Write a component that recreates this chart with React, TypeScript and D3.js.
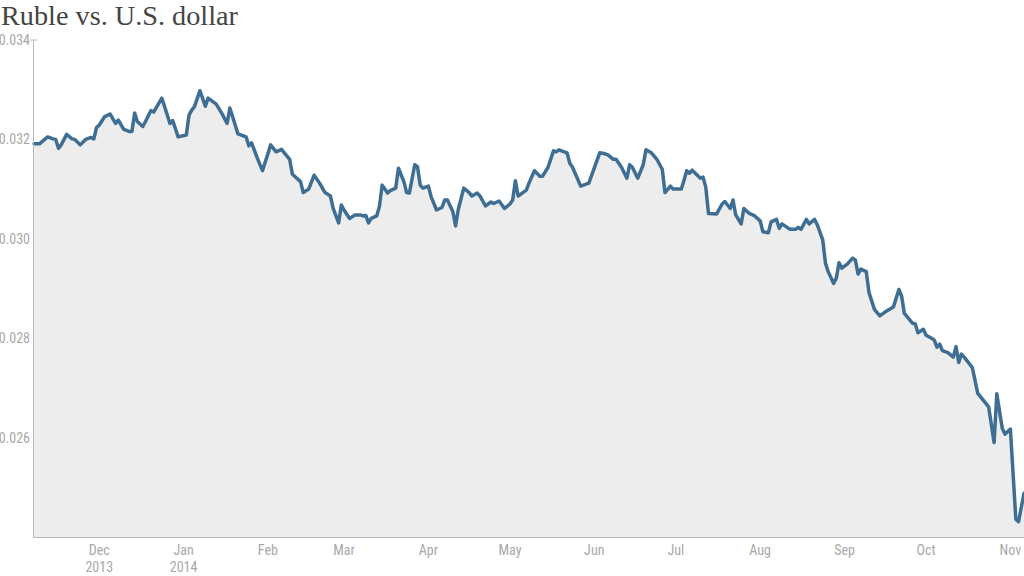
import React from "react";
import * as d3 from "d3";

const title = "Ruble vs. U.S. dollar";

// [date, rubles-in-dollars]
const rubleUsd: [string, number][] = [
  ["2013-11-07", 0.03191], ["2013-11-09", 0.03191], ["2013-11-12", 0.03205], ["2013-11-14", 0.03201],
  ["2013-11-15", 0.032], ["2013-11-16", 0.03182], ["2013-11-17", 0.03189], ["2013-11-19", 0.0321],
  ["2013-11-21", 0.03201], ["2013-11-22", 0.032], ["2013-11-24", 0.03189], ["2013-11-26", 0.032],
  ["2013-11-28", 0.03204], ["2013-11-29", 0.03201], ["2013-11-30", 0.03224], ["2013-12-01", 0.03229],
  ["2013-12-03", 0.03246], ["2013-12-05", 0.03251], ["2013-12-07", 0.03232], ["2013-12-08", 0.03239],
  ["2013-12-10", 0.0322], ["2013-12-12", 0.03216], ["2013-12-13", 0.03216], ["2013-12-14", 0.03253],
  ["2013-12-15", 0.03236], ["2013-12-17", 0.03226], ["2013-12-18", 0.03236], ["2013-12-20", 0.03258],
  ["2013-12-21", 0.03255], ["2013-12-24", 0.03283], ["2013-12-26", 0.03249], ["2013-12-27", 0.03232],
  ["2013-12-28", 0.03238], ["2013-12-30", 0.03205], ["2014-01-02", 0.03209], ["2014-01-03", 0.03249],
  ["2014-01-04", 0.03259], ["2014-01-05", 0.03266], ["2014-01-07", 0.03298], ["2014-01-09", 0.03267],
  ["2014-01-10", 0.03283], ["2014-01-13", 0.03271], ["2014-01-15", 0.03253], ["2014-01-17", 0.03232],
  ["2014-01-18", 0.03263], ["2014-01-19", 0.03246], ["2014-01-21", 0.03211], ["2014-01-24", 0.03205],
  ["2014-01-25", 0.03187], ["2014-01-26", 0.03193], ["2014-01-28", 0.03164], ["2014-01-30", 0.03137],
  ["2014-02-01", 0.03171], ["2014-02-02", 0.03189], ["2014-02-04", 0.03175], ["2014-02-06", 0.0318],
  ["2014-02-09", 0.0316], ["2014-02-10", 0.0313], ["2014-02-13", 0.03115], ["2014-02-14", 0.03093],
  ["2014-02-16", 0.031], ["2014-02-18", 0.03128], ["2014-02-20", 0.03112], ["2014-02-22", 0.03093],
  ["2014-02-24", 0.03086], ["2014-02-25", 0.03061], ["2014-02-27", 0.03032], ["2014-02-28", 0.03068],
  ["2014-03-01", 0.03058], ["2014-03-03", 0.03041], ["2014-03-05", 0.03048], ["2014-03-07", 0.03048],
  ["2014-03-08", 0.03046], ["2014-03-09", 0.03047], ["2014-03-10", 0.03032], ["2014-03-11", 0.03041],
  ["2014-03-13", 0.03046], ["2014-03-14", 0.03065], ["2014-03-15", 0.03108], ["2014-03-17", 0.03092],
  ["2014-03-18", 0.03097], ["2014-03-20", 0.03102], ["2014-03-21", 0.03142], ["2014-03-23", 0.03115],
  ["2014-03-24", 0.03093], ["2014-03-25", 0.03092], ["2014-03-27", 0.03149], ["2014-03-28", 0.03145],
  ["2014-03-29", 0.03108], ["2014-03-30", 0.03102], ["2014-04-01", 0.03106], ["2014-04-02", 0.03085],
  ["2014-04-04", 0.03058], ["2014-04-06", 0.03063], ["2014-04-07", 0.03078], ["2014-04-08", 0.03078],
  ["2014-04-10", 0.03055], ["2014-04-11", 0.03026], ["2014-04-12", 0.03059], ["2014-04-14", 0.03102],
  ["2014-04-16", 0.03093], ["2014-04-17", 0.03086], ["2014-04-19", 0.03092], ["2014-04-20", 0.03086],
  ["2014-04-22", 0.03066], ["2014-04-24", 0.03074], ["2014-04-25", 0.03071], ["2014-04-27", 0.03076],
  ["2014-04-29", 0.03061], ["2014-05-01", 0.0307], ["2014-05-02", 0.03078], ["2014-05-03", 0.03117],
  ["2014-05-04", 0.03086], ["2014-05-07", 0.03098], ["2014-05-08", 0.03112], ["2014-05-10", 0.03137],
  ["2014-05-12", 0.03126], ["2014-05-13", 0.03126], ["2014-05-15", 0.03144], ["2014-05-17", 0.03177],
  ["2014-05-18", 0.03175], ["2014-05-19", 0.03179], ["2014-05-22", 0.03173], ["2014-05-23", 0.03152],
  ["2014-05-24", 0.03144], ["2014-05-27", 0.03106], ["2014-05-28", 0.03108], ["2014-05-30", 0.03112],
  ["2014-06-03", 0.03173], ["2014-06-05", 0.03171], ["2014-06-06", 0.03169], ["2014-06-08", 0.0316],
  ["2014-06-09", 0.0316], ["2014-06-11", 0.03144], ["2014-06-13", 0.03122], ["2014-06-14", 0.03149],
  ["2014-06-15", 0.03144], ["2014-06-17", 0.03122], ["2014-06-19", 0.03149], ["2014-06-20", 0.03179],
  ["2014-06-22", 0.03173], ["2014-06-24", 0.0316], ["2014-06-26", 0.0314], ["2014-06-27", 0.03093],
  ["2014-06-29", 0.03106], ["2014-06-30", 0.031], ["2014-07-03", 0.031], ["2014-07-04", 0.03118],
  ["2014-07-05", 0.03137], ["2014-07-06", 0.03132], ["2014-07-07", 0.03138], ["2014-07-10", 0.03122],
  ["2014-07-11", 0.03124], ["2014-07-12", 0.03104], ["2014-07-13", 0.03051], ["2014-07-16", 0.0305],
  ["2014-07-18", 0.0307], ["2014-07-19", 0.03075], ["2014-07-21", 0.03061], ["2014-07-22", 0.03078],
  ["2014-07-23", 0.03048], ["2014-07-25", 0.0303], ["2014-07-26", 0.03061], ["2014-07-28", 0.03051],
  ["2014-07-30", 0.03046], ["2014-08-01", 0.03036], ["2014-08-02", 0.03014], ["2014-08-04", 0.03012],
  ["2014-08-05", 0.03034], ["2014-08-07", 0.03039], ["2014-08-08", 0.03021], ["2014-08-09", 0.0303],
  ["2014-08-12", 0.03019], ["2014-08-14", 0.03019], ["2014-08-15", 0.03023], ["2014-08-16", 0.03019],
  ["2014-08-18", 0.03039], ["2014-08-19", 0.0303], ["2014-08-21", 0.03039], ["2014-08-22", 0.03028],
  ["2014-08-24", 0.02998], ["2014-08-25", 0.02951], ["2014-08-26", 0.02934], ["2014-08-28", 0.0291],
  ["2014-08-29", 0.02921], ["2014-08-30", 0.02952], ["2014-08-31", 0.02941], ["2014-09-02", 0.02949],
  ["2014-09-04", 0.02961], ["2014-09-05", 0.02957], ["2014-09-06", 0.02929], ["2014-09-07", 0.02939],
  ["2014-09-09", 0.02934], ["2014-09-10", 0.02892], ["2014-09-12", 0.02858], ["2014-09-14", 0.02845],
  ["2014-09-16", 0.02853], ["2014-09-19", 0.02863], ["2014-09-21", 0.02898], ["2014-09-22", 0.02885],
  ["2014-09-23", 0.0285], ["2014-09-25", 0.02837], ["2014-09-26", 0.0283], ["2014-09-27", 0.02829],
  ["2014-09-28", 0.02811], ["2014-09-30", 0.02818], ["2014-10-01", 0.02806], ["2014-10-03", 0.028],
  ["2014-10-04", 0.02796], ["2014-10-05", 0.02782], ["2014-10-06", 0.02788], ["2014-10-07", 0.02775],
  ["2014-10-09", 0.02771], ["2014-10-11", 0.02762], ["2014-10-12", 0.02783], ["2014-10-13", 0.02751],
  ["2014-10-14", 0.02768], ["2014-10-15", 0.02762], ["2014-10-18", 0.02741], ["2014-10-20", 0.02689],
  ["2014-10-24", 0.02662], ["2014-10-26", 0.0259], ["2014-10-27", 0.02688], ["2014-10-29", 0.02619],
  ["2014-10-30", 0.02607], ["2014-11-01", 0.02617], ["2014-11-03", 0.02436], ["2014-11-04", 0.02431],
  ["2014-11-06", 0.02488],
];

const yTicks = [0.026, 0.028, 0.03, 0.032, 0.034];
const monthTicks = [
  "2013-12-01", "2014-01-01", "2014-02-01", "2014-03-01", "2014-04-01", "2014-05-01",
  "2014-06-01", "2014-07-01", "2014-08-01", "2014-09-01", "2014-10-01", "2014-11-01",
];
const monthLabels = ["Dec", "Jan", "Feb", "Mar", "Apr", "May", "Jun", "Jul", "Aug", "Sep", "Oct", "Nov"];
const yearLabels = ["2013", "2014", "", "", "", "", "", "", "", "", "", ""];

const W = 1024;
const H = 576;
const left = 34;
const right = 1024;
const top = 40;
const bottom = 537;

const parse = d3.utcParse("%Y-%m-%d");

export default function App() {
  const data = rubleUsd.map(([d, v]) => ({ date: parse(d) as Date, value: v }));
  const x = d3
    .scaleUtc()
    .domain([parse("2013-11-07") as Date, parse("2014-11-06") as Date])
    .range([left, right]);
  const y = d3.scaleLinear().domain([0.024, 0.034]).range([bottom, top]);

  const area = d3
    .area<{ date: Date; value: number }>()
    .x((d) => x(d.date))
    .y0(bottom)
    .y1((d) => y(d.value));
  const line = d3
    .line<{ date: Date; value: number }>()
    .x((d) => x(d.date))
    .y((d) => y(d.value));

  const tickFont = "'Liberation Sans Narrow', 'Roboto Condensed', Roboto, sans-serif";

  return (
    <svg
      width={W}
      height={H}
      style={{ position: "absolute", left: 0, top: 0, background: "#fff" }}
    >
      <path d={area(data) ?? ""} fill="#ededed" />
      <path
        d={line(data) ?? ""}
        fill="none"
        stroke="#3e6e93"
        strokeWidth={3.5}
        strokeLinejoin="round"
        strokeLinecap="round"
      />
      {/* y axis */}
      <line x1={left - 0.5} x2={left - 0.5} y1={top} y2={bottom} stroke="#b8b8b8" strokeWidth={1} />
      <line x1={left - 4} x2={left + 3} y1={y(0.034)} y2={y(0.034)} stroke="#b8b8b8" strokeWidth={1} />
      {yTicks.map((t) => (
        <text
          key={t}
          x={left - 4}
          y={y(t)}
          dy="0.35em"
          textAnchor="end"
          fontFamily={tickFont}
          fontSize={14}
          fill="#a8a8a8"
        >
          {d3.format(".3f")(t)}
        </text>
      ))}
      {/* x axis */}
      <line x1={left - 0.5} x2={right} y1={bottom + 0.5} y2={bottom + 0.5} stroke="#b8b8b8" strokeWidth={1} />
      {monthTicks.map((m, i) => {
        const px = x(parse(m) as Date);
        return (
          <g key={m}>
            <text x={px} y={555} textAnchor="middle" fontFamily={tickFont} fontSize={14} fill="#a8a8a8">
              {monthLabels[i]}
            </text>
            {yearLabels[i] && (
              <text x={px} y={572} textAnchor="middle" fontFamily={tickFont} fontSize={14} fill="#a8a8a8">
                {yearLabels[i]}
              </text>
            )}
          </g>
        );
      })}
      <text
        x={1}
        y={25}
        fontFamily="'Liberation Serif', 'DejaVu Serif', serif"
        fontSize={27}
        fill="#444"
        textLength={237}
        lengthAdjust="spacingAndGlyphs"
      >
        {title}
      </text>
    </svg>
  );
}
